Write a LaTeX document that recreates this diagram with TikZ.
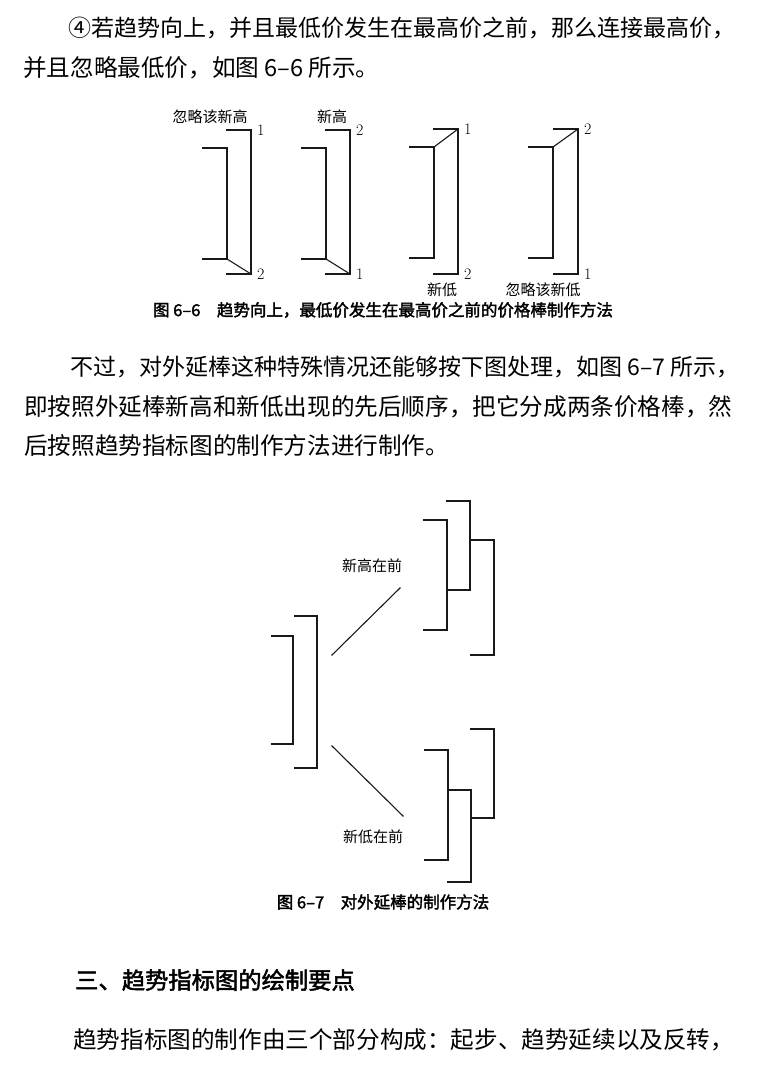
\documentclass[tikz,border=0pt]{standalone}
\usepackage{fontspec}
\newfontfamily\cjk{Noto Sans CJK SC}[AutoFakeBold=2]
\usetikzlibrary{positioning}
\tikzstyle{bar} = [line width=1.1pt, draw=black!90, line cap=rect]
\tikzstyle{body} = [anchor=west, inner sep=0pt, font=\cjk\fontsize{23.6}{23.6}\selectfont]
\tikzstyle{bodyn} = [anchor=west, inner sep=0pt, font=\cjk\fontsize{23}{23}\selectfont]
\tikzstyle{head} = [anchor=west, inner sep=0pt, font=\cjk\bfseries\fontsize{23.3}{23.3}\selectfont]
\tikzstyle{figcap} = [inner sep=0pt, font=\cjk\bfseries\fontsize{16.5}{16.5}\selectfont]
\tikzstyle{lbl} = [inner sep=0pt, font=\cjk\fontsize{15}{15}\selectfont]
\tikzstyle{num} = [inner sep=0pt, font=\fontsize{16}{16}\selectfont]
% price bar: name, x, top, bottom (ticks to the left)
\newcommand{\pricebar}[5][24]{%
  \coordinate (#2t) at (#3,#4);
  \coordinate (#2b) at (#3,#5);
  \draw[bar] ([xshift=-#1pt]#2t) -- (#2t) -- (#2b) -- ([xshift=-#1pt]#2b);
}

\begin{document}
\begin{tikzpicture}[x=1pt,y=-1pt]
  \fill[white] (0,0) rectangle (758,1067);
  \useasboundingbox (0,0) rectangle (758,1067);

  \node[bodyn] (line1) at (68,28) {④若趋势向上，并且最低价发生在最高价之前，那么连接最高价，};
  \node[body] (line2) at (23,68) {并且忽略最低价，如图 6–6 所示。};

  % figure 6-6
  \pricebar{f1A}{227}{148}{259}
  \pricebar{f1B}{251}{130}{274}
  \draw[bar] (f1Ab) -- (f1Bb);
  \node[lbl] (f1lbl) at (210,117) {忽略该新高};
  \node[num, right=6pt of f1Bt] (f1n1) {1};
  \node[num, right=6pt of f1Bb] (f1n2) {2};

  \pricebar{f2A}{326}{148}{259}
  \pricebar{f2B}{350}{130}{274}
  \draw[bar] (f2Ab) -- (f2Bb);
  \node[lbl] (f2lbl) at (332,117) {新高};
  \node[num, right=6pt of f2Bt] (f2n2) {2};
  \node[num, right=6pt of f2Bb] (f2n1) {1};

  \pricebar{f3A}{434}{147}{258}
  \pricebar{f3B}{458}{129}{274}
  \draw[bar] (f3At) -- (f3Bt);
  \node[lbl] (f3lbl) at (442,290) {新低};
  \node[num, right=6pt of f3Bt] (f3n1) {1};
  \node[num, right=6pt of f3Bb] (f3n2) {2};

  \pricebar{f4A}{553}{147}{258}
  \pricebar{f4B}{578}{129}{274}
  \draw[bar] (f4At) -- (f4Bt);
  \node[lbl] (f4lbl) at (543,290) {忽略该新低};
  \node[num, right=6pt of f4Bt] (f4n2) {2};
  \node[num, right=6pt of f4Bb] (f4n1) {1};

  \node[figcap] (cap66) at (383,310) {图 6–6\quad 趋势向上，最低价发生在最高价之前的价格棒制作方法};

  \node[bodyn] (line3) at (70,367) {不过，对外延棒这种特殊情况还能够按下图处理，如图 6–7 所示，};
  \node[body] (line4) at (24,407) {即按照外延棒新高和新低出现的先后顺序，把它分成两条价格棒，然};
  \node[body] (line5) at (24,446) {后按照趋势指标图的制作方法进行制作。};

  % figure 6-7
  \pricebar[21]{oA}{293}{636}{744}
  \pricebar[22]{oB}{317}{616}{768}

  \coordinate (upS) at (332,655);
  \coordinate (upE) at (400,588);
  \draw[bar] (upS) -- (upE);
  \node[lbl] (uplbl) at (372,566) {新高在前};
  \pricebar[23]{u1}{470}{501}{590}
  \pricebar[23]{u2}{447}{520}{630}
  \pricebar[23]{u3}{494}{540}{655}

  \coordinate (dnS) at (332,746);
  \coordinate (dnE) at (403,816);
  \draw[bar] (dnS) -- (dnE);
  \node[lbl] (dnlbl) at (373,837) {新低在前};
  \pricebar[23]{d1}{494}{729}{818}
  \pricebar[23]{d2}{448}{750}{860}
  \pricebar[23]{d3}{471}{790}{882}

  \node[figcap] (cap67) at (383,902) {图 6–7\quad 对外延棒的制作方法};

  \node[head] (sect) at (75,980) {三、趋势指标图的绘制要点};
  \node[body] (line6) at (73,1040) {趋势指标图的制作由三个部分构成：起步、趋势延续以及反转，};
\end{tikzpicture}
\end{document}
